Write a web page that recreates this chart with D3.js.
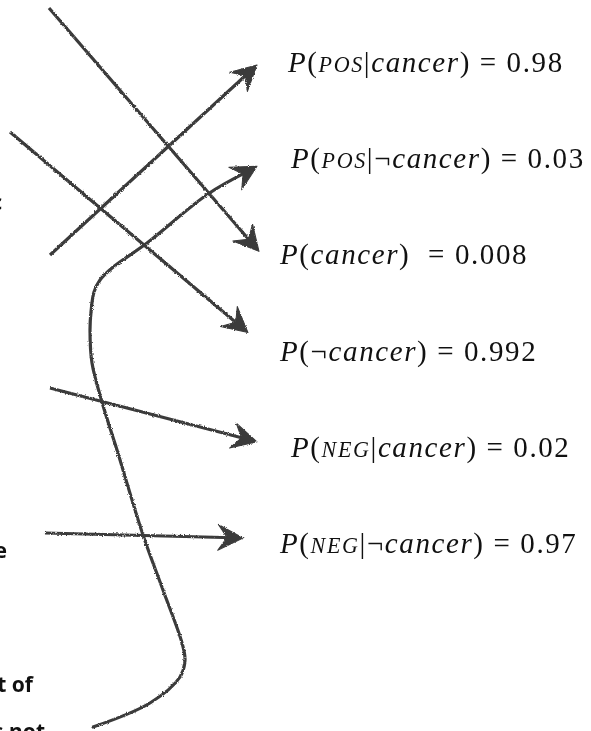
<!DOCTYPE html>
<html>
<head>
<meta charset="utf-8">
<script src="https://cdn.jsdelivr.net/npm/d3@7"></script>
<style>
	body { margin: 0; background: #fff; }
	svg { display: block; }
	text { white-space: pre; }
</style>
</head>
<body>
<svg id="main-plot"></svg>
<script>
// probability labels, one row each
var events = ['POS', 'POS', '', '', 'NEG', 'NEG'];
var negated = [false, true, false, true, false, true];
var probs = ['0.98', '0.03', '0.008', '0.992', '0.02', '0.97'];
var gaps = [' = ', ' = ', '  = ', ' = ', ' = ', ' = '];

// which row each sketched arrow points at
var arrowRows = [2, 3, 0, 4, 5];
var curveRow = 1;

// words of the cut-off text on the left margin
var marginWords = ['ic', 'the', 'it of', 'is not'];

window.onload = function init() {
	'use strict';

	var width = 591,
		height = 731,
		svg = d3.select('svg#main-plot').attr('width', width).attr('height', height),
		ink = '#3b3b3b';

	var y = d3.scalePoint().domain(d3.range(probs.length)).range([72, 553]);

	// hand placement of the sketch (label indent, arrow tips, starts)
	var labelX = [288, 291, 280, 280, 291, 280],
		tipX = [259, 248, 257, 257, 243],
		tipDy = [-13, -28, -7, -15, -15],
		starts = [[49, 8], [10, 132], [50, 255], [50, 388], [45, 533]],
		curvePts = [[93, 727], [150, 703], [180, 677], [185, 660], [182, 643], [163, 590],
			[143, 535], [117, 450], [102, 402], [92, 363], [90, 330], [91, 312], [94, 292],
			[100, 280], [112, 268], [147, 243], [208, 194]];

	var defs = svg.append('defs');
	var f = defs.append('filter').attr('id', 'rough')
		.attr('x', '-5%').attr('y', '-5%').attr('width', '110%').attr('height', '110%');
	f.append('feTurbulence').attr('type', 'fractalNoise').attr('baseFrequency', 0.9)
		.attr('numOctaves', 2).attr('seed', 3).attr('result', 'noise');
	f.append('feDisplacementMap').attr('in', 'SourceGraphic').attr('in2', 'noise')
		.attr('scale', 2.6).attr('xChannelSelector', 'R').attr('yChannelSelector', 'G');

	var sketch = svg.append('g').attr('filter', 'url(#rough)');
	var line = d3.line().curve(d3.curveCatmullRom.alpha(0.5));

	function head(tip, from) {
		var a = Math.atan2(tip[1] - from[1], tip[0] - from[0]) * 180 / Math.PI;
		sketch.append('path')
			.attr('d', 'M0,0L-25,-13L-16,0L-25,13Z')
			.attr('fill', ink)
			.attr('stroke', ink)
			.attr('stroke-width', 1)
			.attr('stroke-linejoin', 'round')
			.attr('transform', 'translate(' + tip[0] + ',' + tip[1] + ') rotate(' + a + ')');
	}

	function shorten(tip, from, d) {
		var dx = tip[0] - from[0], dy = tip[1] - from[1], l = Math.sqrt(dx * dx + dy * dy);
		return [tip[0] - dx / l * d, tip[1] - dy / l * d];
	}

	arrowRows.forEach(function(row, i) {
		var tip = [tipX[i], y(row) + tipDy[i]], s = starts[i];
		sketch.append('path')
			.attr('d', line([s, shorten(tip, s, 10)]))
			.attr('fill', 'none')
			.attr('stroke', ink)
			.attr('stroke-width', 3.2);
		head(tip, s);
	});

	var cTip = [257, y(curveRow) - 2],
		cLast = curvePts[curvePts.length - 1];
	sketch.append('path')
		.attr('d', line(curvePts.concat([shorten(cTip, cLast, 10)])))
		.attr('fill', 'none')
		.attr('stroke', ink)
		.attr('stroke-width', 3.2)
		.attr('stroke-linecap', 'round');
	head(cTip, cLast);

	// labels
	var labels = svg.append('g')
		.attr('font-family', '"Liberation Serif", "DejaVu Serif", serif')
		.attr('font-size', 29)
		.attr('letter-spacing', 1.6)
		.attr('fill', '#111');

	probs.forEach(function(p, i) {
		var t = labels.append('text').attr('x', labelX[i]).attr('y', y(i));
		t.append('tspan').attr('font-style', 'italic').text('P');
		t.append('tspan').text('(');
		if (events[i]) {
			t.append('tspan').attr('font-style', 'italic').attr('font-size', '0.76em').text(events[i]);
			t.append('tspan').text('|');
		}
		if (negated[i]) t.append('tspan').text('\u00ac');
		t.append('tspan').attr('font-style', 'italic').text('cancer');
		t.append('tspan').text(')');
		t.append('tspan').text(gaps[i] + p);
	});

	// cut-off margin text
	var marginX = [2, 7, 33, 45],
		marginY = [210, 558, 692, 739];
	svg.append('g')
		.attr('font-family', '"Noto Sans", sans-serif')
		.attr('font-weight', 'bold')
		.attr('font-size', 21)
		.attr('fill', '#111')
		.attr('text-anchor', 'end')
		.selectAll('text')
		.data(marginWords)
		.enter()
		.append('text')
		.attr('x', function(d, i) { return marginX[i]; })
		.attr('y', function(d, i) { return marginY[i]; })
		.text(function(d) { return d; });
};
</script>
</body>
</html>
